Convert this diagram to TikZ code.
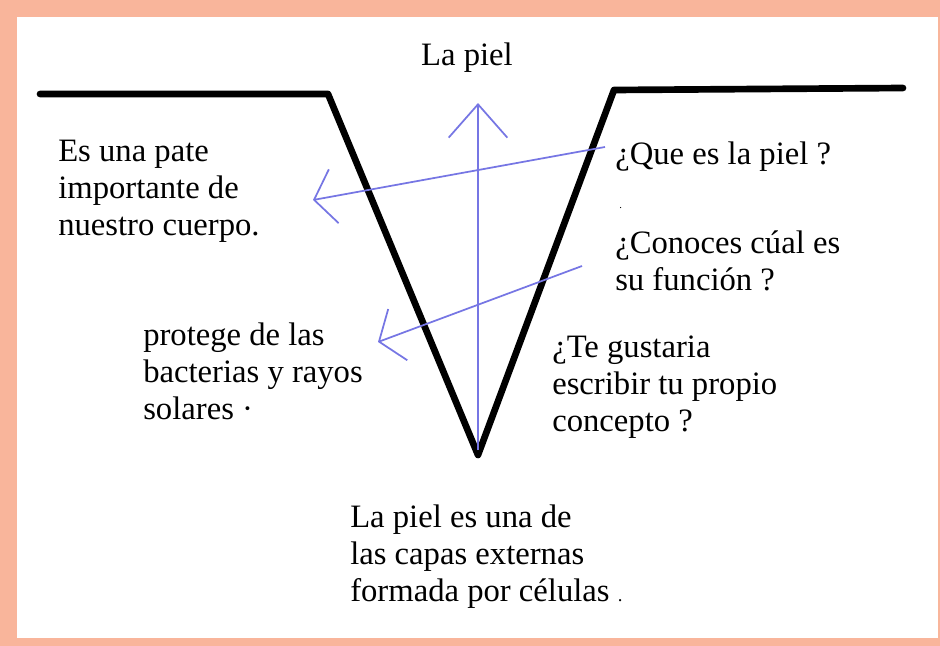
\documentclass[tikz,border=0pt]{standalone}
\usepackage{fontspec}
\setmainfont{Liberation Serif}
\usetikzlibrary{arrows.meta}

\definecolor{marco}{RGB}{249,181,155}
\definecolor{azul}{RGB}{118,118,228}

\tikzset{
    texto/.style={anchor=base west, align=left, inner sep=0pt,
        font=\fontsize{24.5}{27.75}\selectfont},
    flecha/.style={azul, line width=1.3pt, -{Straight Barb[length=15pt,width=41pt]}},
    piel/.style={line width=5pt, line cap=round, line join=round}
}

\begin{document}
\begin{tikzpicture}[x=0.75pt, y=-0.75pt]
            \useasboundingbox (0,0) rectangle (940,646);

            % Marco
            \fill[marco] (0,0) rectangle (940,646);
            \fill[white] (17,17) rectangle (938,638);

            % Corte de la piel
            \coordinate (izq) at (40,94);
            \coordinate (bordeI) at (328,94);
            \coordinate (fondo) at (478,455);
            \coordinate (bordeD) at (614,90);
            \coordinate (der) at (903,88);
            \draw[piel] (izq) -- (bordeI) -- (fondo) -- (bordeD) -- (der);

            % Textos (ancla en la ultima linea)
            \node[texto, anchor=base] (titulo) at (467,65) {La piel};
            \node[texto] (respuesta1) at (58,235) {Es una pate\\importante de\\nuestro cuerpo.};
            \node[texto] (respuesta2) at (143,419) {protege de las\\bacterias y rayos\\solares ·};
            \node[texto] (pregunta1) at (615,164) {¿Que es la piel ?};
            \node[texto, font=\fontsize{8}{8}\selectfont] (punto) at (619,208) {.};
            \node[texto] (pregunta2) at (615,290) {¿Conoces cúal es\\su función ?};
            \node[texto] (pregunta3) at (552,431) {¿Te gustaria\\escribir tu propio\\concepto ?};
            \node[texto] (concepto) at (350,601) {La piel es una de\\las capas externas\\formada por células {\fontsize{14}{14}\selectfont .}};

            % Flechas
            \coordinate (sube0) at (478,450);
            \coordinate (sube1) at (478,103);
            \coordinate (q1) at (605,147);
            \coordinate (r1) at (313,200);
            \coordinate (q2) at (582,266);
            \coordinate (r2) at (378,342);
            \draw[flecha, -{Straight Barb[length=25pt,width=44pt]}] (sube0) -- (sube1);
            \draw[flecha] (q1) -- (r1);
            \draw[flecha] (q2) -- (r2);
        \end{tikzpicture}
\end{document}
